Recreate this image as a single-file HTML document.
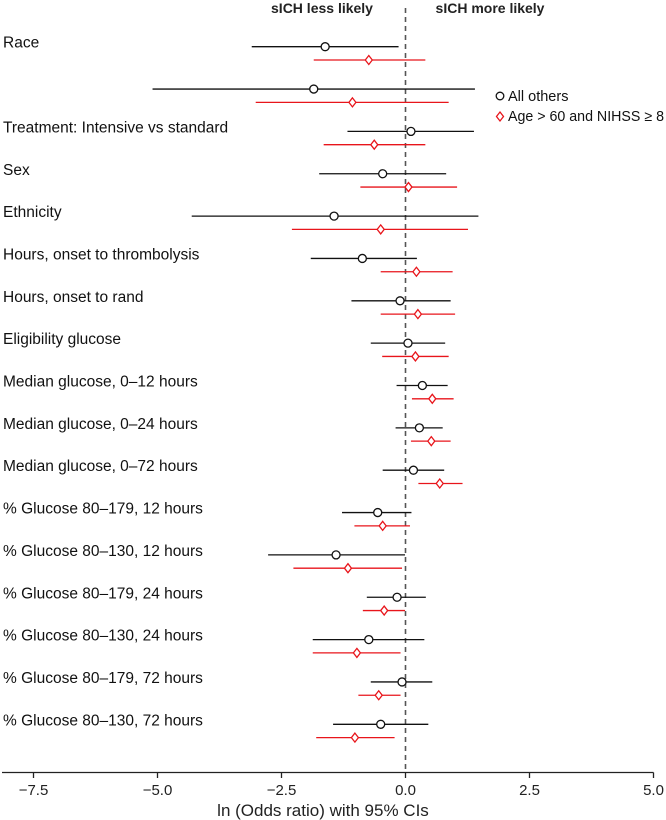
<!DOCTYPE html>
<html><head><meta charset="utf-8"><style>
html,body{margin:0;padding:0;background:#fff;}
svg{display:block;font-family:"Liberation Sans",sans-serif;}
</style></head><body>
<svg id="chart" width="666" height="820" viewBox="0 0 666 820">
</svg>
<script>
const labels = ["Race","","Treatment: Intensive vs standard","Sex","Ethnicity","Hours, onset to thrombolysis","Hours, onset to rand","Eligibility glucose","Median glucose, 0–12 hours","Median glucose, 0–24 hours","Median glucose, 0–72 hours","% Glucose 80–179, 12 hours","% Glucose 80–130, 12 hours","% Glucose 80–179, 24 hours","% Glucose 80–130, 24 hours","% Glucose 80–179, 72 hours","% Glucose 80–130, 72 hours"];
const blackEst = [-1.62,-1.85,0.11,-0.46,-1.44,-0.87,-0.11,0.05,0.34,0.28,0.16,-0.56,-1.40,-0.17,-0.74,-0.07,-0.50];
const blackLo  = [-3.10,-5.10,-1.17,-1.74,-4.31,-1.91,-1.09,-0.70,-0.18,-0.20,-0.46,-1.28,-2.77,-0.78,-1.87,-0.70,-1.46];
const blackHi  = [-0.14,1.40,1.38,0.82,1.47,0.23,0.91,0.80,0.85,0.75,0.78,0.12,-0.01,0.41,0.38,0.54,0.46];
const redEst = [-0.74,-1.07,-0.63,0.06,-0.50,0.22,0.25,0.20,0.54,0.52,0.69,-0.46,-1.16,-0.43,-0.98,-0.54,-1.02];
const redLo  = [-1.85,-3.02,-1.65,-0.91,-2.29,-0.50,-0.50,-0.47,0.13,0.11,0.26,-1.03,-2.26,-0.86,-1.87,-0.95,-1.80];
const redHi  = [0.40,0.87,0.40,1.04,1.26,0.95,1.00,0.87,0.97,0.91,1.15,0.09,-0.07,-0.01,-0.10,-0.10,-0.22];
const xTicks = [-7.5,-5.0,-2.5,0.0,2.5,5.0];
const xTickLabels = ["−7.5","−5.0","−2.5","0.0","2.5","5.0"];

const svg = document.getElementById('chart');
const NS = 'http://www.w3.org/2000/svg';
const x = v => 405.5 + v * 49.6;
const yRow = i => 46.7 + i * 42.35;
function mk(tag, attrs, parent){
  const e = document.createElementNS(NS, tag);
  for (const k in attrs) e.setAttribute(k, attrs[k]);
  (parent||svg).appendChild(e);
  return e;
}
function txt(s, attrs){ const t = mk('text', attrs); t.textContent = s; return t; }

let zl = mk('line',{x1:x(0),x2:x(0),y1:8,y2:772,stroke:'#555','stroke-width':1.6,'stroke-dasharray':'5,4'});



let h1 = txt('sICH less likely',{x:322,y:13,'text-anchor':'middle','font-size':14,'font-weight':'bold',fill:'#222'});


let h2 = txt('sICH more likely',{x:490,y:13,'text-anchor':'middle','font-size':14,'font-weight':'bold',fill:'#222'});



labels.forEach((lab, i) => {
  const yb = yRow(i), yr = yb + 13.3;
  if (lab) {
    const t = txt(lab,{x:3,y:yb+1,'font-size':15.5,fill:'#111'});
    
    
  }
  const lb = mk('line',{x1:x(blackLo[i]),x2:x(blackHi[i]),y1:yb,y2:yb,stroke:'#111','stroke-width':1.3});
  
  
  const cb = mk('circle',{cx:x(blackEst[i]),cy:yb,r:4,fill:'#fff',stroke:'#111','stroke-width':1.3});
  
  
  const lr = mk('line',{x1:x(redLo[i]),x2:x(redHi[i]),y1:yr,y2:yr,stroke:'#e8151b','stroke-width':1.3});
  
  
  const cx = x(redEst[i]);
  const d = mk('polygon',{points:`${cx},${yr-4.5} ${cx+3.5},${yr} ${cx},${yr+4.5} ${cx-3.5},${yr}`,fill:'#fff',stroke:'#e8151b','stroke-width':1.3});
  
  
});

const lc = mk('circle',{cx:500,cy:96,r:3.8,fill:'#fff',stroke:'#111','stroke-width':1.3});


const lt1 = txt('All others',{x:508,y:101,'font-size':14.5,fill:'#111'});


const ld = mk('polygon',{points:'500,112 503.5,116.5 500,121 496.5,116.5',fill:'#fff',stroke:'#e8151b','stroke-width':1.3});


const lt2 = txt('Age > 60 and NIHSS ≥ 8',{x:508,y:121,'font-size':14.5,fill:'#111',textLength:156,lengthAdjust:'spacingAndGlyphs'});



const ax = mk('line',{x1:2,x2:x(5),y1:772.5,y2:772.5,stroke:'#222','stroke-width':1.3});


xTicks.forEach((v,i) => {
  const tk = mk('line',{x1:x(v),x2:x(v),y1:772.5,y2:778,stroke:'#222','stroke-width':1.3});
  
  
  const tl = txt(xTickLabels[i],{x:x(v),y:795,'text-anchor':'middle','font-size':15,fill:'#222'});
  
  
});
const xt = txt('ln (Odds ratio) with 95% CIs',{x:323,y:816,'text-anchor':'middle','font-size':17,fill:'#222'});


</script>
</body></html>
